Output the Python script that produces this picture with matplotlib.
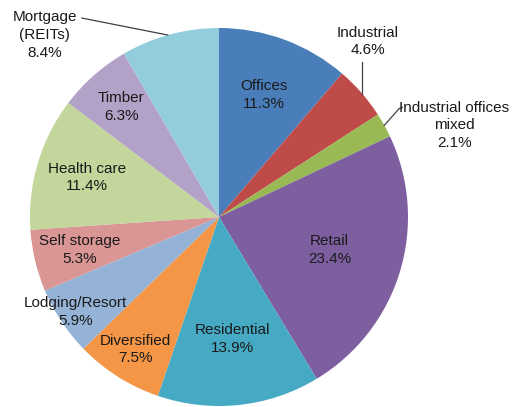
import numpy as np
import matplotlib
matplotlib.use("Agg")
import matplotlib.pyplot as plt

plt.rcParams['font.family'] = ['Liberation Sans', 'DejaVu Sans']

# sector shares (%)
sectors = ['Offices', 'Industrial', 'Industrial offices\nmixed', 'Retail',
           'Residential', 'Diversified', 'Lodging/Resort', 'Self storage',
           'Health care', 'Timber', 'Mortgage\n(REITs)']
shares = [11.3, 4.6, 2.1, 23.4, 13.9, 7.5, 5.9, 5.3, 11.4, 6.3, 8.4]
colors = ['#4A7EBB', '#BE4B48', '#98B954', '#7D5FA0', '#46AAC5', '#F59646',
          '#95B3D7', '#D99694', '#C3D69B', '#B3A2C7', '#93CDDD']

# radial position of inside labels (fraction of radius), None = outside label
label_r = [0.69, None, None, 0.61, 0.65, 0.83, 0.91, 0.76, 0.73, 0.78, None]

W, H = 519, 407
fig = plt.figure(figsize=(W / 100, H / 100), dpi=100)
ax = fig.add_axes([0, 0, 1, 1])

cx, cy, R = 219, 190, 189
wedges, _ = ax.pie(shares, colors=colors, startangle=90, counterclock=False,
                   center=(cx, cy), radius=R, frame=True,
                   wedgeprops=dict(linewidth=0))
ax.set_xlim(0, W)
ax.set_ylim(0, H)
ax.set_aspect('equal')
ax.axis('off')

txt = dict(fontsize=11, color='#1a1a1a', ha='center', va='center',
           linespacing=1.35)
for i, w in enumerate(wedges):
    mid = np.deg2rad((w.theta1 + w.theta2) / 2)
    label = f'{sectors[i]}\n{shares[i]:.1f}%'
    if label_r[i] is not None:
        r = label_r[i] * R
        ax.text(cx + r * np.cos(mid), cy + r * np.sin(mid), label, **txt)

line = dict(color='#404040', lw=0.9)


def rim(deg):
    a = np.deg2rad(deg)
    return cx + R * np.cos(a), cy + R * np.sin(a)


# Industrial: straight vertical leader up from the rim
ex, ey = rim(40.8)
ax.plot([ex, ex], [ey, ey + 32], **line)
ax.text(ex + 6, ey + 52, f'{sectors[1]}\n{shares[1]:.1f}%', **txt)

# Industrial offices mixed
ex, ey = rim(29)
ax.plot([ex, ex + 15, ex + 18], [ey, ey + 17, ey + 18], **line)
ax.text(ex + 70, ey, f'{sectors[2]}\n{shares[2]:.1f}%', **txt)

# Mortgage (REITs)
ex, ey = rim(105.7)
ax.plot([ex, ex - 86], [ey, ey + 17], **line)
ax.text(ex - 123, ey, f'{sectors[10]}\n{shares[10]:.1f}%', **txt)

fig.savefig('out.png', dpi=100, facecolor='white')
